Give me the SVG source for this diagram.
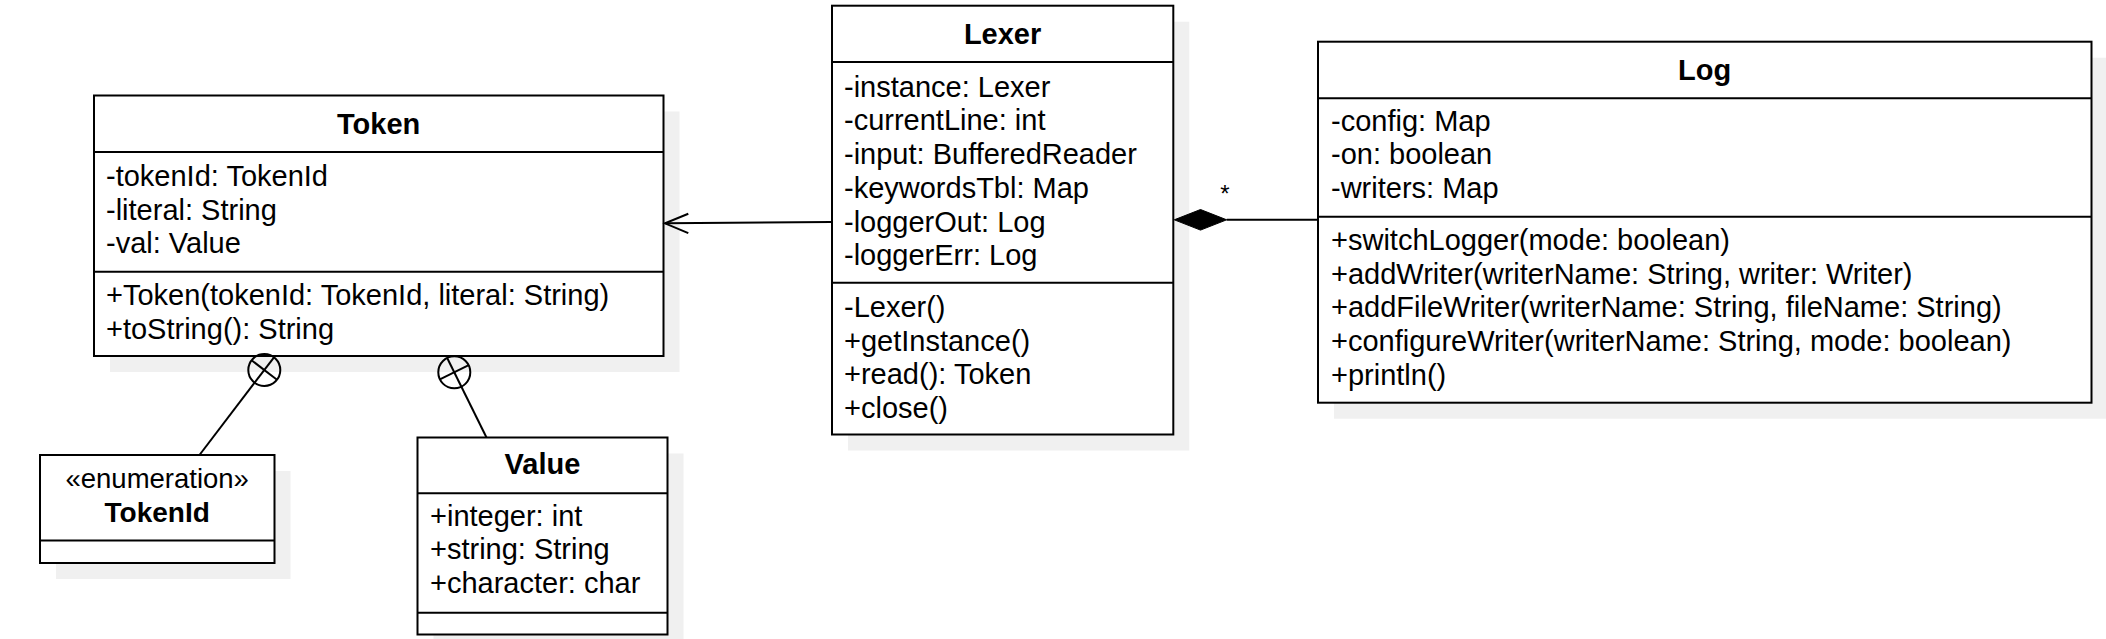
<svg xmlns="http://www.w3.org/2000/svg" width="2106" height="639" viewBox="0 0 2106 639">
<style>
.box{fill:#fff;stroke:#000;stroke-width:2}
.sh{fill:#f0f0f0;stroke:none}
.ln{stroke:#000;stroke-width:2;fill:none}
text{font-family:"Liberation Sans",Arial,sans-serif;font-size:29px;fill:#000}
.t{font-weight:bold;text-anchor:middle}
.c{text-anchor:middle}
</style>
<rect width="2106" height="639" fill="#fff"/>
<g id="token">
<rect class="sh" x="110" y="111.5" width="569.5" height="260.5"/>
<rect class="box" x="94" y="95.5" width="569.5" height="260.5"/>
<line class="ln" x1="94" y1="152" x2="663.5" y2="152"/>
<line class="ln" x1="94" y1="271.7" x2="663.5" y2="271.7"/>
<text class="t" x="378.7" y="133.5">Token</text>
<text x="106" y="186">-tokenId: TokenId</text>
<text x="106" y="219.7">-literal: String</text>
<text x="106" y="253.4">-val: Value</text>
<text x="106" y="305">+Token(tokenId: TokenId, literal: String)</text>
<text x="106" y="338.7">+toString(): String</text>
</g>
<g id="lexer">
<rect class="sh" x="848" y="21.7" width="341.3" height="428.8"/>
<rect class="box" x="832" y="5.7" width="341.3" height="428.8"/>
<line class="ln" x1="832" y1="62" x2="1173.3" y2="62"/>
<line class="ln" x1="832" y1="282.7" x2="1173.3" y2="282.7"/>
<text class="t" x="1002.6" y="44">Lexer</text>
<text x="844" y="96.7">-instance: Lexer</text>
<text x="844" y="130.4">-currentLine: int</text>
<text x="844" y="164.1">-input: BufferedReader</text>
<text x="844" y="197.8">-keywordsTbl: Map</text>
<text x="844" y="231.5">-loggerOut: Log</text>
<text x="844" y="265.2">-loggerErr: Log</text>
<text x="844" y="317">-Lexer()</text>
<text x="844" y="350.7">+getInstance()</text>
<text x="844" y="384.4">+read(): Token</text>
<text x="844" y="418.1">+close()</text>
</g>
<g id="log">
<rect class="sh" x="1334" y="57.7" width="773.5" height="361"/>
<rect class="box" x="1318" y="41.7" width="773.5" height="361"/>
<line class="ln" x1="1318" y1="98.3" x2="2091.5" y2="98.3"/>
<line class="ln" x1="1318" y1="216.8" x2="2091.5" y2="216.8"/>
<text class="t" x="1704.7" y="80">Log</text>
<text x="1331" y="130.5">-config: Map</text>
<text x="1331" y="164.2">-on: boolean</text>
<text x="1331" y="197.9">-writers: Map</text>
<text x="1331" y="250">+switchLogger(mode: boolean)</text>
<text x="1331" y="283.7">+addWriter(writerName: String, writer: Writer)</text>
<text x="1331" y="317.4">+addFileWriter(writerName: String, fileName: String)</text>
<text x="1331" y="351.1">+configureWriter(writerName: String, mode: boolean)</text>
<text x="1331" y="384.8">+println()</text>
</g>
<g id="tokenid">
<rect class="sh" x="56" y="471" width="234.5" height="108"/>
<rect class="box" x="40" y="455" width="234.5" height="108"/>
<line class="ln" x1="40" y1="540.5" x2="274.5" y2="540.5"/>
<text class="c" x="157.2" y="487.5" style="font-size:27.5px">«enumeration»</text>
<text class="t" x="157.2" y="522" style="font-size:28px">TokenId</text>
</g>
<g id="value">
<rect class="sh" x="433.5" y="453.5" width="250" height="197"/>
<rect class="box" x="417.5" y="437.5" width="250" height="197"/>
<line class="ln" x1="417.5" y1="493.3" x2="667.5" y2="493.3"/>
<line class="ln" x1="417.5" y1="612.7" x2="667.5" y2="612.7"/>
<text class="t" x="542.5" y="474">Value</text>
<text x="430" y="525.5">+integer: int</text>
<text x="430" y="559.2">+string: String</text>
<text x="430" y="592.9">+character: char</text>
</g>
<g id="connectors">
<line class="ln" x1="831" y1="222" x2="665" y2="223.3"/>
<polyline class="ln" points="688.3,213.8 665,223.3 688.3,233.2"/>
<line class="ln" x1="1226.7" y1="219.8" x2="1317" y2="219.8"/>
<polygon points="1174.3,219.8 1200.5,209.5 1226.7,219.8 1200.5,230.1" fill="#000" stroke="#000" stroke-width="1"/>
<text class="c" x="1225" y="201.5" style="font-size:24px">*</text>
<circle class="ln" cx="264.3" cy="370" r="16"/>
<line class="ln" x1="274" y1="357.3" x2="254.6" y2="382.7"/>
<line class="ln" x1="277" y1="379.7" x2="251.6" y2="360.3"/>
<line class="ln" x1="254.6" y1="382.7" x2="199.5" y2="455"/>
<circle class="ln" cx="454.3" cy="372.3" r="16"/>
<line class="ln" x1="447.2" y1="358" x2="461.4" y2="386.7"/>
<line class="ln" x1="468.7" y1="365.2" x2="439.9" y2="379.4"/>
<line class="ln" x1="461.4" y1="386.7" x2="486.5" y2="437.5"/>
</g>
</svg>
